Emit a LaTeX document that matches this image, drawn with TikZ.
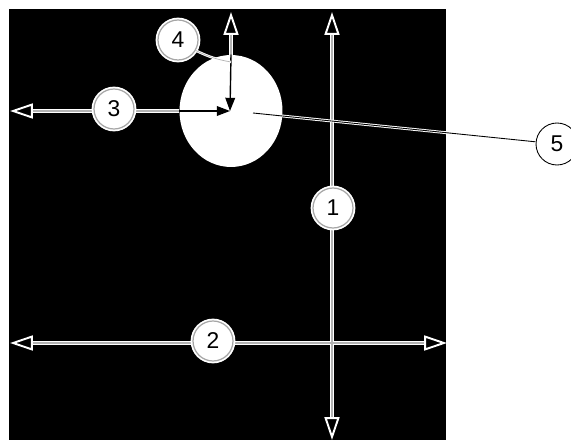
\documentclass[tikz,border=0pt]{standalone}
\usepackage{fontspec}
\setmainfont{Liberation Sans}
\usetikzlibrary{arrows.meta,shapes.geometric}

\tikzset{
  openhead/.tip={Triangle[length=13pt,width=8.5pt,line width=1.1pt,fill=black]},
  dimline/.style={white,line width=2.8pt},
  midline/.style={gray!60,line width=0.6pt},
  inner/.style={black,line width=0.8pt,-{Triangle[length=7.5pt,width=5.5pt]}},
  num/.style={circle,fill=white,draw=white,line width=1pt,double=gray!70,
    double distance=0.7pt,minimum size=0.8cm,inner sep=0pt,font=\fontsize{13}{15}\selectfont},
  numplain/.style={circle,fill=white,draw=black,line width=0.5pt,minimum size=0.84cm,
    inner sep=0pt,font=\fontsize{13}{15}\selectfont}
}

\begin{document}
\begin{tikzpicture}[x=0.02cm,y=-0.02cm]
\useasboundingbox (0,0) rectangle (571,442);

\fill[black] (9,9) rectangle (446,440);
\node[ellipse,fill=white,minimum width=2.06cm,minimum height=2.24cm,inner sep=0pt] (hole) at (231,111) {};

\coordinate (ctr) at (230,111);
\coordinate (a1t) at (332,12); \coordinate (a1b) at (332,440);
\coordinate (a2l) at (10,343); \coordinate (a2r) at (447,343);
\coordinate (a3l) at (10,111); \coordinate (a4t) at (231,12);
\coordinate (k4) at (231,62); \coordinate (k5) at (253,113);

% white dimension arrows
\draw[dimline,openhead-openhead] (a1t) -- (a1b);
\draw[dimline,openhead-openhead] (a2l) -- (a2r);
\draw[dimline,openhead-] (a3l) -- (hole.west);
\draw[dimline,openhead-] (a4t) -- (hole.north);
\draw[midline,shorten <=13pt,shorten >=13pt] (a1t) -- (a1b);
\draw[midline,shorten <=13pt,shorten >=13pt] (a2l) -- (a2r);
\draw[midline,shorten <=13pt] (a3l) -- (hole.west);
\draw[midline,shorten <=13pt] (a4t) -- (hole.north);

\draw[inner] (hole.west) -- (ctr);
\draw[inner] (hole.north) -- (ctr);

\node[num] (l1) at (333,208) {1};
\node[num] (l2) at (213,341) {2};
\node[num] (l3) at (114,109) {3};
\node[num] (l4) at (178,40) {4};
\node[numplain] (l5) at (557,144) {5};

% leaders
\draw[white,line width=1.4pt] (l4) to[bend right=8] (k4);
\draw[gray!60,line width=0.4pt] (l4) to[bend right=8] (k4);
\draw[white,line width=1.6pt] (k5) -- (l5);
\draw[black,line width=0.5pt] (k5) -- (l5);

\end{tikzpicture}
\end{document}
